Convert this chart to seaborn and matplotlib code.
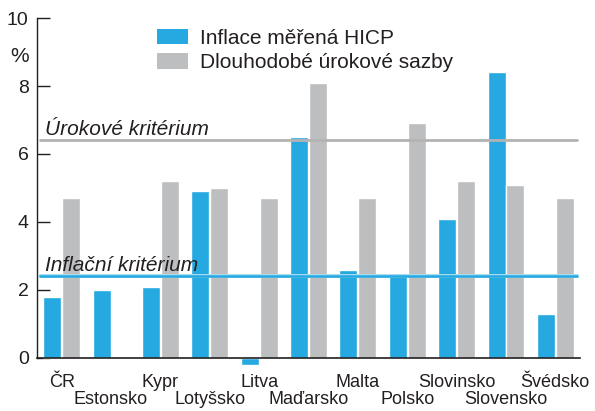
import matplotlib
matplotlib.use("Agg")
import matplotlib.pyplot as plt
import seaborn as sns
import pandas as pd
import numpy as np
from matplotlib.patches import Patch

# data
zeme = ["ČR", "Estonsko", "Kypr", "Lotyšsko", "Litva", "Maďarsko",
        "Malta", "Polsko", "Slovinsko", "Slovensko", "Švédsko"]
inflace = [1.8, 2.0, 2.1, 4.9, -0.2, 6.5, 2.6, 2.5, 4.1, 8.4, 1.3]
sazby = [4.7, np.nan, 5.2, 5.0, 4.7, 8.1, 4.7, 6.9, 5.2, 5.1, 4.7]
inflacni_kriterium = 2.4
urokove_kriterium = 6.4

serie = ["Inflace měřená HICP", "Dlouhodobé úrokové sazby"]
barvy = ["#25a9e0", "#bcbec0"]
text_barva = "#231f20"

df = pd.DataFrame({
    "Země": zeme * 2,
    "Řada": [serie[0]] * len(zeme) + [serie[1]] * len(zeme),
    "Hodnota": inflace + sazby,
}).dropna()

sns.set_style("white")
plt.rcParams["font.family"] = ["Liberation Sans", "DejaVu Sans"]

fig = plt.figure(figsize=(5.95, 4.11), dpi=100)
ax = fig.add_axes([0.0622, 0.0876, 0.9126, 0.8686])

sns.barplot(data=df, x="Země", y="Hodnota", hue="Řada", order=zeme,
            hue_order=serie, palette=barvy, saturation=1, width=0.76,
            gap=0.04, errorbar=None, legend=False, ax=ax)

ax.set_xlim(-0.5, 10.5)
ax.set_ylim(-0.5, 10)
ax.set_xlabel("")
ax.set_ylabel("")

# kritéria
ax.axhline(urokove_kriterium, xmin=0.005, xmax=0.995, color="#b3b3b3", lw=2, zorder=4)
ax.axhline(inflacni_kriterium, xmin=0.005, xmax=0.995, color="#a9dcf3", lw=2.8, zorder=4)
ax.axhline(inflacni_kriterium, xmin=0.005, xmax=0.995, color="#25a9e0", lw=1.8, zorder=5)
ax.text(-0.34, urokove_kriterium + 0.17, "Úrokové kritérium", style="italic",
        fontsize=15, va="baseline", ha="left", color=text_barva)
ax.text(-0.34, inflacni_kriterium + 0.17, "Inflační kritérium", style="italic",
        fontsize=15, va="baseline", ha="left", color=text_barva)

# osy
for s in ["top", "right"]:
    ax.spines[s].set_visible(False)
ax.spines["left"].set_bounds(0, 10)
ax.spines["left"].set_color(text_barva)
ax.spines["left"].set_linewidth(1)
ax.spines["bottom"].set_position(("data", 0))
ax.spines["bottom"].set_color(text_barva)
ax.spines["bottom"].set_linewidth(1.2)
ax.set_yticks([0, 2, 4, 6, 8, 10])
ax.tick_params(axis="y", direction="in", length=9.5, width=1, pad=6,
               labelsize=14, colors=text_barva, left=True)
ax.set_xticks([])

# popisky zemí ve dvou řadách
for i, nazev in enumerate(zeme):
    y = -0.73 if i % 2 == 0 else -1.23
    ax.text(i, y, nazev, ha="center", va="center", fontsize=13,
            color=text_barva, clip_on=False)

fig.text(20 / 595, 1 - 56 / 411, "%", ha="center", va="center",
         fontsize=15, color=text_barva)

handles = [Patch(facecolor=c, edgecolor="none") for c in barvy]
leg = ax.legend(handles, serie, loc="upper left", bbox_to_anchor=(0.236, 0.97),
                bbox_transform=fig.transFigure, frameon=False, fontsize=15,
                handlelength=1.5, handleheight=0.75, handletextpad=0.55,
                labelspacing=0.25, borderpad=0.3)
for t in leg.get_texts():
    t.set_color(text_barva)

fig.savefig("out.png", dpi=100)
